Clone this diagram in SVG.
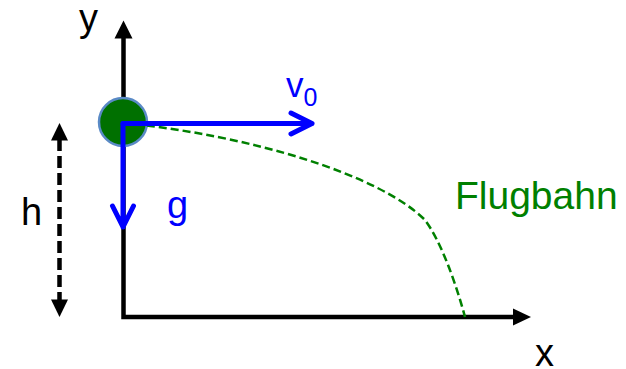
<svg xmlns="http://www.w3.org/2000/svg" width="626" height="369" viewBox="0 0 626 369">
<style>
  text { font-family: "Liberation Sans", Arial, sans-serif; }
  .lbl { font-size: 38px; fill: #000; }
  .blue { fill: #0000ff; }
  .axis { stroke: #000; stroke-width: 4.5; fill: none; }
  .vec { stroke: #0000ff; stroke-width: 5; fill: none; stroke-linecap: round; stroke-linejoin: round; }
  .traj { stroke: #008000; stroke-width: 2.5; fill: none; stroke-dasharray: 8 4; }
  .hline { stroke: #000; stroke-width: 4.5; fill: none; stroke-dasharray: 12 5; }
</style>
<rect width="626" height="369" fill="#fff"/>
<g id="connectors">
  <path class="axis" d="M123.5,36 V317 H516" stroke-linejoin="miter"/>
  <polygon points="123.5,20.5 114.5,38.5 132.5,38.5" fill="#000"/>
  <polygon points="531,317 513,308.5 513,325.5" fill="#000"/>
  <line class="hline" x1="59.5" y1="139" x2="59.5" y2="301"/>
  <polygon points="59.5,123 51,140.5 68,140.5" fill="#000"/>
  <polygon points="59.5,317 51,299.5 68,299.5" fill="#000"/>
</g>
<g id="ball">
  <circle cx="123" cy="122" r="24" fill="#007000" stroke="#5a8ac6" stroke-width="2.5"/>
</g>
<g id="trajectory">
  <path class="traj" d="M123,123 C250,135 380,175 425,220 C440,240 455,280 465,317"/>
</g>
<g id="vectors">
  <path class="vec" d="M123,123.5 H312 M291,113 L312,123.5 L291,134"/>
  <path class="vec" d="M123,123.5 V227 M112.5,206 L123,227 L133.5,206"/>
</g>
<g id="labels">
  <text class="lbl" x="79" y="31">y</text>
  <text class="lbl" x="535" y="366">x</text>
  <text class="lbl" x="21" y="225">h</text>
  <text class="lbl blue" x="167" y="218">g</text>
  <text class="blue" x="286" y="97" font-size="35">v<tspan font-size="25" dy="9">0</tspan></text>
  <text x="455" y="209" font-size="39" fill="#008000">Flugbahn</text>
</g>
</svg>
